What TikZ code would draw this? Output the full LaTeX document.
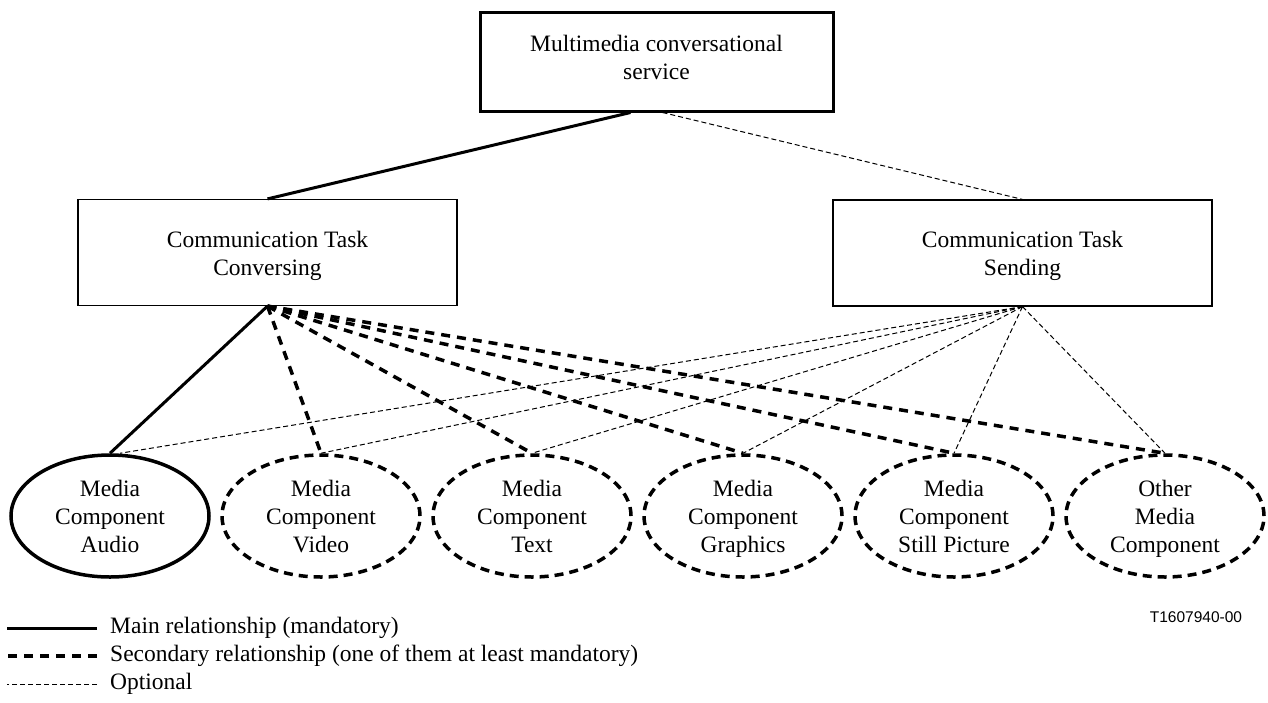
\documentclass[tikz,border=0pt]{standalone}
\usepackage{fontspec}
\setmainfont{Liberation Serif}
\newfontfamily\figlabelfont{Liberation Sans}
\usetikzlibrary{positioning,shapes.geometric}

\begin{document}
\begin{tikzpicture}[x=1pt, y=-1pt,
    every node/.style={font=\fontsize{23.5}{28}\selectfont, align=center},
    box/.style={draw, rectangle, minimum width=379pt, minimum height=106pt,
        line width=1.2pt, text height=45pt, text depth=0pt},
    topbox/.style={box, minimum width=353pt, minimum height=99pt, line width=3pt,
        text height=44.5pt, text depth=8.4pt},
    comp/.style={draw, ellipse, minimum width=198pt, minimum height=122pt,
        inner sep=0pt, line width=3.5pt, dash pattern=on 9pt off 6pt,
        text height=72pt, text depth=0pt},
    mainrel/.style={line width=3pt},
    secrel/.style={line width=3.5pt, dash pattern=on 9pt off 7pt},
    optrel/.style={line width=1pt, dash pattern=on 5pt off 3pt},
    legtxt/.style={anchor=west, inner sep=0pt},
]
\useasboundingbox (0,0) rectangle (1268,702);

% Service and tasks
\node[topbox] (service) at (656.5,61.5) {Multimedia conversational\\service};
\node[box] (conv) at (267.5,252.5) {Communication Task\\Conversing};
\node[box] (send) at (1022.5,253) {Communication Task\\Sending};

% Media components
\node[comp, solid] (audio) at (110,516) {Media\\Component\\Audio};
\node[comp] (video) at (321,516) {Media\\Component\\Video};
\node[comp] (text) at (532,516) {Media\\Component\\Text};
\node[comp] (graphics) at (743,516) {Media\\Component\\Graphics};
\node[comp] (still) at (954,516) {Media\\Component\\Still Picture};
\node[comp] (other) at (1165,516) {Other\\Media\\Component};

% Relationships
\draw[mainrel] ([xshift=-26pt]service.south) -- (conv.north);
\draw[optrel] ([xshift=6pt]service.south) -- (send.north);

\draw[mainrel] (conv.south) -- (audio.north);
\foreach \c in {video,text,graphics,still,other}
    \draw[secrel] (conv.south) -- (\c.north);

\draw[optrel] (send.south) -- ([xshift=10pt]audio.north);
\foreach \c in {video,text,graphics,still,other}
    \draw[optrel] (send.south) -- (\c.north);

% Legend
\node[legtxt] (legmain) at (110,628) {Main relationship (mandatory)};
\node[legtxt] (legsec) at (110,656) {Secondary relationship (one of them at least mandatory)};
\node[legtxt] (legopt) at (110,684) {Optional};
\draw[mainrel] ([xshift=-13pt]legmain.west) -- ++(-90,0);
\draw[secrel] ([xshift=-13pt]legsec.west) -- ++(-90,0);
\draw[optrel] ([xshift=-13pt]legopt.west) -- ++(-90,0);

\node[font=\figlabelfont\fontsize{15.5}{18}\selectfont] (figno) at (1196,617) {T1607940-00};
\end{tikzpicture}
\end{document}
